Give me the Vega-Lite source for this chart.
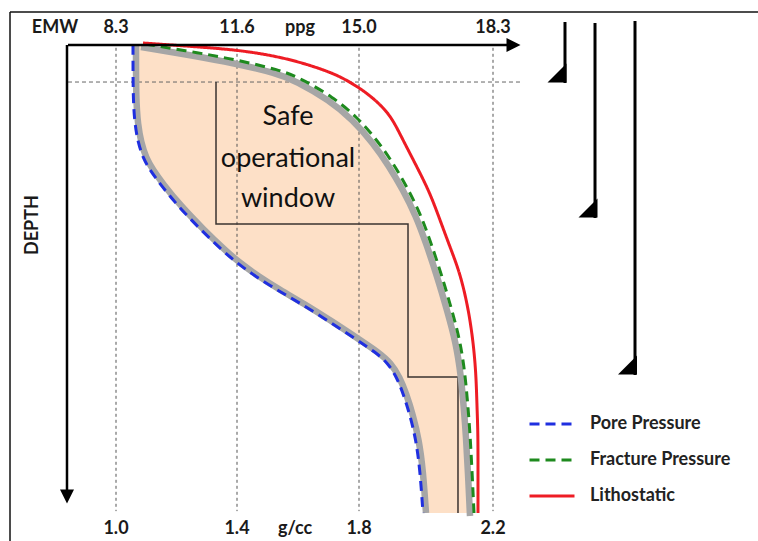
{
  "$schema": "https://vega.github.io/schema/vega-lite/v6.json",
  "width": 758,
  "height": 541,
  "padding": 0,
  "autosize": {"type": "none"},
  "config": {"view": {"stroke": null}, "font": "Lato",
    "legend": {"symbolType": "stroke", "symbolSize": 2025, "symbolStrokeWidth": 3, "labelFontSize": 18, "labelFont": "Lato", "labelFontWeight": "bold", "labelColor": "#222222", "labelOffset": 14, "rowPadding": 3, "padding": 0}},
  "datasets": {
    "curves": [
      {"s": "Pore Pressure", "g": 1.0562, "d": 0}, {"s": "Pore Pressure", "g": 1.0562, "d": 11.75}, {"s": "Pore Pressure", "g": 1.0628, "d": 17.09}, {"s": "Pore Pressure", "g": 1.0727, "d": 20.73}, {"s": "Pore Pressure", "g": 1.0893, "d": 24.15}, {"s": "Pore Pressure", "g": 1.1124, "d": 26.71}, {"s": "Pore Pressure", "g": 1.1455, "d": 29.70}, {"s": "Pore Pressure", "g": 1.2017, "d": 34.19}, {"s": "Pore Pressure", "g": 1.2777, "d": 39.32}, {"s": "Pore Pressure", "g": 1.3537, "d": 44.02}, {"s": "Pore Pressure", "g": 1.4, "d": 46.58}, {"s": "Pore Pressure", "g": 1.4590, "d": 49.36}, {"s": "Pore Pressure", "g": 1.5311, "d": 52.35}, {"s": "Pore Pressure", "g": 1.6066, "d": 55.13}, {"s": "Pore Pressure", "g": 1.7049, "d": 59.19}, {"s": "Pore Pressure", "g": 1.7934, "d": 63.03}, {"s": "Pore Pressure", "g": 1.8478, "d": 65.60}, {"s": "Pore Pressure", "g": 1.8866, "d": 67.95}, {"s": "Pore Pressure", "g": 1.9134, "d": 71.15}, {"s": "Pore Pressure", "g": 1.9313, "d": 74.36}, {"s": "Pore Pressure", "g": 1.9522, "d": 79.06}, {"s": "Pore Pressure", "g": 1.9701, "d": 84.40}, {"s": "Pore Pressure", "g": 1.9821, "d": 90.81}, {"s": "Pore Pressure", "g": 1.9910, "d": 100},
      {"s": "Fracture Pressure", "g": 1.0959, "d": -0.21}, {"s": "Fracture Pressure", "g": 1.2777, "d": 1.71}, {"s": "Fracture Pressure", "g": 1.4, "d": 3.21}, {"s": "Fracture Pressure", "g": 1.5410, "d": 5.34}, {"s": "Fracture Pressure", "g": 1.6066, "d": 7.05}, {"s": "Fracture Pressure", "g": 1.7148, "d": 11.11}, {"s": "Fracture Pressure", "g": 1.7934, "d": 15.38}, {"s": "Fracture Pressure", "g": 1.8537, "d": 20.30}, {"s": "Fracture Pressure", "g": 1.9015, "d": 25.21}, {"s": "Fracture Pressure", "g": 1.9433, "d": 30.34}, {"s": "Fracture Pressure", "g": 1.9821, "d": 35.90}, {"s": "Fracture Pressure", "g": 2.0119, "d": 41.67}, {"s": "Fracture Pressure", "g": 2.0448, "d": 48.72}, {"s": "Fracture Pressure", "g": 2.0746, "d": 55.98}, {"s": "Fracture Pressure", "g": 2.1015, "d": 63.03}, {"s": "Fracture Pressure", "g": 2.1164, "d": 70.09}, {"s": "Fracture Pressure", "g": 2.1254, "d": 77.35}, {"s": "Fracture Pressure", "g": 2.1313, "d": 82.91}, {"s": "Fracture Pressure", "g": 2.1373, "d": 90.81}, {"s": "Fracture Pressure", "g": 2.1433, "d": 100},
      {"s": "Lithostatic", "g": 1.0893, "d": -0.43}, {"s": "Lithostatic", "g": 1.2777, "d": 0.43}, {"s": "Lithostatic", "g": 1.4, "d": 1.07}, {"s": "Lithostatic", "g": 1.5082, "d": 2.14}, {"s": "Lithostatic", "g": 1.6066, "d": 3.63}, {"s": "Lithostatic", "g": 1.7148, "d": 5.98}, {"s": "Lithostatic", "g": 1.7705, "d": 7.91}, {"s": "Lithostatic", "g": 1.8239, "d": 10.26}, {"s": "Lithostatic", "g": 1.8716, "d": 13.25}, {"s": "Lithostatic", "g": 1.9015, "d": 16.03}, {"s": "Lithostatic", "g": 1.9313, "d": 20.30}, {"s": "Lithostatic", "g": 1.9731, "d": 26.07}, {"s": "Lithostatic", "g": 2.0119, "d": 31.62}, {"s": "Lithostatic", "g": 2.0418, "d": 37.39}, {"s": "Lithostatic", "g": 2.0716, "d": 43.16}, {"s": "Lithostatic", "g": 2.1015, "d": 48.72}, {"s": "Lithostatic", "g": 2.1254, "d": 55.98}, {"s": "Lithostatic", "g": 2.1403, "d": 63.03}, {"s": "Lithostatic", "g": 2.1493, "d": 70.09}, {"s": "Lithostatic", "g": 2.1522, "d": 77.35}, {"s": "Lithostatic", "g": 2.1552, "d": 82.91}, {"s": "Lithostatic", "g": 2.1552, "d": 90.81}, {"s": "Lithostatic", "g": 2.1552, "d": 100}
    ],
    "window": [
      {"d": 0, "g": 1.0661, "g2": 1.0826}, {"d": 1.07, "g": 1.0661, "g2": 1.1421}, {"d": 3.21, "g": 1.0661, "g2": 1.3339}, {"d": 5.34, "g": 1.0661, "g2": 1.4852}, {"d": 7.48, "g": 1.0661, "g2": 1.5836}, {"d": 9.62, "g": 1.0661, "g2": 1.6459}, {"d": 11.75, "g": 1.0661, "g2": 1.7016}, {"d": 17.09, "g": 1.0727, "g2": 1.7934}, {"d": 20.73, "g": 1.0826, "g2": 1.8388}, {"d": 24.15, "g": 1.0992, "g2": 1.8716}, {"d": 26.71, "g": 1.1223, "g2": 1.8955}, {"d": 29.70, "g": 1.1554, "g2": 1.9224}, {"d": 34.19, "g": 1.2116, "g2": 1.9522}, {"d": 39.32, "g": 1.2876, "g2": 1.9851}, {"d": 44.02, "g": 1.3636, "g2": 2.0090}, {"d": 46.58, "g": 1.4098, "g2": 2.0209}, {"d": 49.36, "g": 1.4689, "g2": 2.0328}, {"d": 52.35, "g": 1.5410, "g2": 2.0448}, {"d": 55.13, "g": 1.6164, "g2": 2.0567}, {"d": 59.19, "g": 1.7148, "g2": 2.0716}, {"d": 63.03, "g": 1.8030, "g2": 2.0866}, {"d": 65.60, "g": 1.8567, "g2": 2.0925}, {"d": 67.95, "g": 1.8955, "g2": 2.0985}, {"d": 71.15, "g": 1.9224, "g2": 2.1045}, {"d": 74.36, "g": 1.9403, "g2": 2.1090}, {"d": 79.06, "g": 1.9612, "g2": 2.1146}, {"d": 84.40, "g": 1.9791, "g2": 2.1194}, {"d": 90.81, "g": 1.9910, "g2": 2.1254}, {"d": 100, "g": 2.0000, "g2": 2.1313}
    ],
    "step": [
      {"i": 1, "g": 1.3306, "d": 7.91}, {"i": 2, "g": 1.3306, "d": 38.25}, {"i": 3, "g": 1.9463, "d": 38.25}, {"i": 4, "g": 1.9463, "d": 70.94}, {"i": 5, "g": 2.0955, "d": 70.94}, {"i": 6, "g": 2.0955, "d": 100}
    ],
    "rules": [
      {"k": "border", "g": 0.6496, "g2": 2.991, "d": -7.05, "d2": -7.05},
      {"k": "border", "g": 0.6496, "g2": 0.6496, "d": -7.05, "d2": 105.98},
      {"k": "axis", "g": 0.8413, "g2": 2.2507, "d": 0, "d2": 0},
      {"k": "axis", "g": 0.838, "g2": 0.838, "d": 0, "d2": 95.09},
      {"k": "grid", "g": 1.0, "g2": 1.0, "d": 0.6, "d2": 99.6},
      {"k": "grid", "g": 1.4, "g2": 1.4, "d": 0.6, "d2": 99.6},
      {"k": "grid", "g": 1.8, "g2": 1.8, "d": 0.6, "d2": 99.6},
      {"k": "grid", "g": 2.2, "g2": 2.2, "d": 0.6, "d2": 99.6},
      {"k": "hdash", "g": 0.8413, "g2": 2.2866, "d": 7.91, "d2": 7.91},
      {"k": "casing", "g": 2.4149, "g2": 2.4149, "d": -4.91, "d2": 8.12},
      {"k": "casing", "g": 2.5045, "g2": 2.5045, "d": -4.70, "d2": 36.97},
      {"k": "casing", "g": 2.6239, "g2": 2.6239, "d": -5.13, "d2": 70.51}
    ],
    "heads": [
      {"k": "right", "g": 2.2612, "d": 0},
      {"k": "down", "g": 0.838, "d": 96.47},
      {"k": "shoe", "g": 2.3910, "d": 5.98},
      {"k": "shoe", "g": 2.4836, "d": 34.83},
      {"k": "shoe", "g": 2.6015, "d": 68.38}
    ],
    "ticks": [
      {"t": "EMW", "g": 0.7983, "d": -2.56}, {"t": "8.3", "g": 1.0, "d": -2.56}, {"t": "11.6", "g": 1.4, "d": -2.56}, {"t": "ppg", "g": 1.6066, "d": -2.56}, {"t": "15.0", "g": 1.8, "d": -2.56}, {"t": "18.3", "g": 2.2, "d": -2.56},
      {"t": "1.0", "g": 1.0, "d": 104.59}, {"t": "1.4", "g": 1.4, "d": 104.59}, {"t": "g/cc", "g": 1.5902, "d": 104.59}, {"t": "1.8", "g": 1.8, "d": 104.59}, {"t": "2.2", "g": 2.2, "d": 104.59}
    ],
    "notes": [
      {"t": "Safe", "g": 1.5672, "d": 17.09}, {"t": "operational", "g": 1.5672, "d": 26.07}, {"t": "window", "g": 1.5672, "d": 34.62}
    ],
    "ylabel": [{"t": "DEPTH", "g": 0.7256, "d": 38.46}]
  },
  "encoding": {
    "x": {"field": "g", "type": "quantitative", "axis": null, "scale": {"domain": [1.0, 1.4, 1.8, 2.2], "range": [116, 237, 359, 493], "zero": false, "nice": false}},
    "y": {"field": "d", "type": "quantitative", "axis": null, "scale": {"domain": [0, 100], "range": [45, 513], "zero": false, "nice": false}}
  },
  "layer": [
    {"data": {"name": "window"}, "mark": {"type": "area", "orient": "horizontal", "color": "#fde0c7", "interpolate": "basis"}, "encoding": {"x2": {"field": "g2"}}},
    {"data": {"name": "rules"}, "transform": [{"filter": "datum.k === 'grid'"}], "mark": {"type": "rule", "color": "#555555", "strokeWidth": 1, "strokeDash": [3, 3]}, "encoding": {"x2": {"field": "g2"}, "y2": {"field": "d2"}}},
    {"data": {"name": "rules"}, "transform": [{"filter": "datum.k === 'hdash'"}], "mark": {"type": "rule", "color": "#666666", "strokeWidth": 1, "strokeDash": [4, 3]}, "encoding": {"x2": {"field": "g2"}, "y2": {"field": "d2"}}},
    {"data": {"name": "step"}, "mark": {"type": "line", "color": "#3a3330", "strokeWidth": 1.5}, "encoding": {"order": {"field": "i"}}},
    {"data": {"name": "curves"}, "transform": [{"filter": "datum.s === 'Pore Pressure'"}], "mark": {"type": "line", "color": "#a6a6a6", "strokeWidth": 6.5, "interpolate": "basis", "xOffset": 3}, "encoding": {"order": {"field": "d"}}},
    {"data": {"name": "curves"}, "transform": [{"filter": "datum.s === 'Fracture Pressure'"}], "mark": {"type": "line", "color": "#a6a6a6", "strokeWidth": 6.5, "interpolate": "basis", "xOffset": -4, "yOffset": 3}, "encoding": {"order": {"field": "d"}}},
    {"data": {"name": "curves"}, "mark": {"type": "line", "strokeWidth": 3, "interpolate": "basis"},
      "encoding": {
        "order": {"field": "d"},
        "color": {"field": "s", "type": "nominal", "scale": {"domain": ["Pore Pressure", "Fracture Pressure", "Lithostatic"], "range": ["#1f2fe0", "#1e8a1e", "#ee1c24"]}, "legend": {"title": null, "orient": "none", "legendX": 528, "legendY": 400}},
        "strokeDash": {"field": "s", "type": "nominal", "scale": {"domain": ["Pore Pressure", "Fracture Pressure", "Lithostatic"], "range": [[10, 6], [10, 6], [1, 0]]}, "legend": {"title": null, "orient": "none", "legendX": 528, "legendY": 400}}
      }},
    {"data": {"name": "rules"}, "transform": [{"filter": "datum.k === 'border'"}], "mark": {"type": "rule", "color": "#111111", "strokeWidth": 1.5}, "encoding": {"x2": {"field": "g2"}, "y2": {"field": "d2"}}},
    {"data": {"name": "rules"}, "transform": [{"filter": "datum.k === 'axis'"}], "mark": {"type": "rule", "color": "#000000", "strokeWidth": 2.5}, "encoding": {"x2": {"field": "g2"}, "y2": {"field": "d2"}}},
    {"data": {"name": "rules"}, "transform": [{"filter": "datum.k === 'casing'"}], "mark": {"type": "rule", "color": "#000000", "strokeWidth": 3}, "encoding": {"x2": {"field": "g2"}, "y2": {"field": "d2"}}},
    {"data": {"name": "heads"}, "transform": [{"filter": "datum.k === 'right'"}], "mark": {"type": "point", "shape": "M-1,-1L1,0L-1,1Z", "filled": true, "color": "#000000", "opacity": 1, "size": 196}},
    {"data": {"name": "heads"}, "transform": [{"filter": "datum.k === 'down'"}], "mark": {"type": "point", "shape": "M-1,-1L1,-1L0,1Z", "filled": true, "color": "#000000", "opacity": 1, "size": 196}},
    {"data": {"name": "heads"}, "transform": [{"filter": "datum.k === 'shoe'"}], "mark": {"type": "point", "shape": "M1,-1L1,1L-1,1Z", "filled": true, "color": "#000000", "opacity": 1, "size": 361}},
    {"data": {"name": "ticks"}, "mark": {"type": "text", "font": "Lato", "fontSize": 18, "fontWeight": "bold", "color": "#1a1a1a", "align": "center", "baseline": "alphabetic"}, "encoding": {"text": {"field": "t"}}},
    {"data": {"name": "notes"}, "mark": {"type": "text", "font": "Lato", "fontSize": 27, "color": "#111111", "align": "center", "baseline": "alphabetic"}, "encoding": {"text": {"field": "t"}}},
    {"data": {"name": "ylabel"}, "mark": {"type": "text", "font": "Lato", "fontSize": 18, "fontWeight": "bold", "color": "#1a1a1a", "align": "center", "baseline": "middle", "angle": 270}, "encoding": {"text": {"field": "t"}}}
  ]
}
